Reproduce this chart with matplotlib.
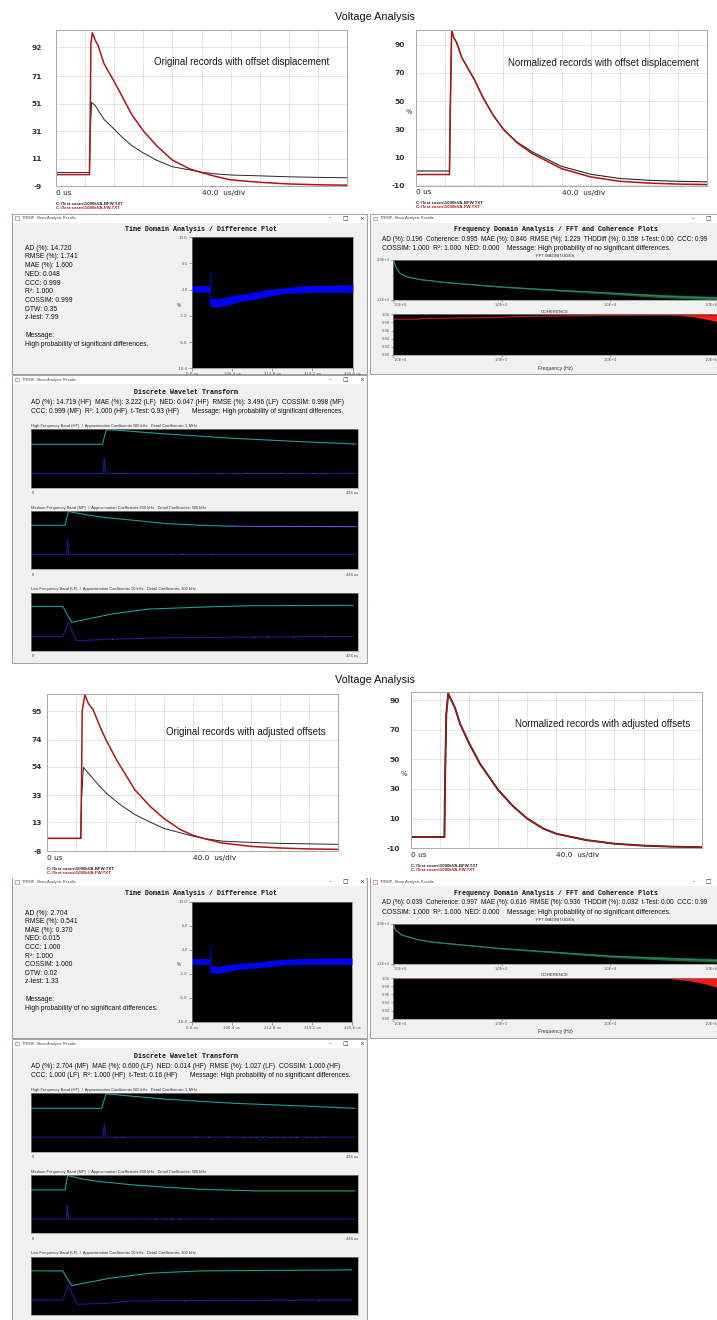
import matplotlib.pyplot as plt
from matplotlib.patches import Rectangle
import numpy as np

W, H = 717, 1320
SANS = 'Liberation Sans'
MONO = 'Liberation Mono'
VERD = 'DejaVu Sans'
RED = '#b01414'
INK = '#262626'
BLUE = '#0000ff'
TEAL = '#229c9c'
NAVY = '#1c1c96'
SPECK = '#1a8a3a'

# ---- voltage records (time in us, 40 us/div) ----
# offset displacement, original
off_t_black = [0, 46, 47, 49, 54, 60, 66, 80, 91, 104, 120, 138, 160, 184, 200, 220, 240, 280, 320, 360, 400]
off_v_black = [1.0, 1.0, 30, 52, 49.6, 44.4, 39.6, 32.5, 26.6, 20.6, 15.2, 10, 5.2, 2.9, 1.2, 0.0, -0.8, -1.4, -2.1, -2.5, -2.8]
off_t_red = [0, 46, 47, 48, 50, 54, 58, 66, 80, 91, 104, 120, 138, 160, 184, 200, 220, 240, 280, 320, 360, 400]
off_v_red = [-0.5, -0.5, 40, 95, 102.5, 97, 93, 80, 67, 56.2, 43.2, 31.3, 20.6, 10, 3.6, 1.0, -1.9, -4.3, -6.1, -7.3, -7.9, -8.2]
# offset displacement, normalized
offn_t = [0, 46, 47, 49, 52, 56, 63, 80, 92, 106, 120, 139, 160, 200, 240, 280, 320, 360, 400]
offn_v_black = [0.3, 0.3, 40, 100, 95, 91.4, 80.8, 65.5, 52.6, 40, 30, 20.8, 13.8, 3.6, -2.0, -5.0, -6.3, -7.0, -7.4]
offn_v_red = [-2.2, -2.2, 40, 100, 95, 91.4, 80.8, 65.5, 52.6, 40, 30, 20.3, 12.6, 2.0, -3.9, -7.0, -8.3, -9.0, -9.3]
# adjusted offsets, original
adj_t_black = [0, 46, 47, 49.6, 56.4, 68, 80.8, 100, 120.4, 141.2, 160.4, 199.6, 214.4, 240, 280, 320, 400]
adj_v_black = [1.3, 1.3, 30, 53.5, 49.3, 42, 34.7, 26.2, 18.8, 13.3, 8.6, 3.0, 1.3, -0.7, -1.7, -2.4, -3.1]
adj_t_red = [0, 46, 47, 48, 51.6, 56.4, 63.2, 72.4, 80.8, 95.2, 120.4, 141.2, 160.4, 182.4, 199.6, 214.4, 240, 280, 320, 360, 400]
adj_v_red = [1.3, 1.3, 40, 95, 107, 100.6, 95.7, 83.5, 73.7, 59, 37, 24.9, 15.9, 7.9, 3.7, 1.3, -2.1, -4.6, -5.8, -6.5, -6.8]
# adjusted offsets, normalized
adjn_t = [0, 46, 47, 48.5, 51.2, 56, 60.4, 67.6, 80.4, 94.8, 120, 140.8, 160, 182, 200, 240.4, 280, 320, 360, 400]
adjn_v = [-2.4, -2.4, 40, 80, 94.4, 89.3, 84.9, 73.8, 60.4, 47.1, 29.3, 18.2, 10, 3.3, -0.2, -4.4, -6.9, -8.2, -8.9, -9.3]

files = [r'C:\Test cases\1000kVA-BFW.TXT', r'C:\Test cases\1000kVA-FW.TXT']

# ---- difference plots (us, %) ----
diff_t = [0, 46, 47.5, 49, 55, 70, 90, 110, 130, 163, 200, 242, 300, 425.6]
diff1_lo = [1.7, 1.7, 0.2, -0.4, -0.6, -0.6, -0.4, -0.1, 0.3, 0.55, 1.0, 1.45, 1.6, 1.6]
diff1_hi = [2.6, 2.6, 1.5, 0.8, 0.6, 0.6, 0.8, 1.1, 1.3, 1.55, 2.0, 2.2, 2.6, 2.7]
diff1_spike = (47.5, 1.7, 4.6)
diff2_lo = [-0.4, -0.4, -1.0, -1.5, -1.9, -1.9, -1.7, -1.4, -1.2, -1.05, -0.8, -0.5, -0.4, -0.4]
diff2_hi = [0.5, 0.5, 0.0, -0.5, -0.8, -0.8, -0.6, -0.4, -0.3, -0.2, 0.1, 0.33, 0.5, 0.6]
diff2_spike = (47.5, -1.9, 2.7)

td1_stats = ['AD (%): 14.720', 'RMSE (%): 1.741', 'MAE (%): 1.600', 'NED: 0.048', 'CCC: 0.999',
             'R²: 1.000', 'COSSIM: 0.999', 'DTW: 0.35', 'z-test: 7.99']
td1_msg = 'High probability of significant differences.'
td2_stats = ['AD (%): 2.704', 'RMSE (%): 0.541', 'MAE (%): 0.370', 'NED: 0.015', 'CCC: 1.000',
             'R²: 1.000', 'COSSIM: 1.000', 'DTW: 0.02', 'z-test: 1.33']
td2_msg = 'High probability of no significant differences.'

# ---- spectra ----
fft1_f = [1, 1.15, 1.33, 1.77, 3.1, 9.7, 100, 680, 1e4, 9.5e4, 9.3e5, 1e6]
fft1_m = [200, 180.9, 169.5, 161.9, 155.8, 148.9, 139, 132.9, 125.3, 118.5, 113.8, 113.5]
fft2_f = [1, 1.1, 1.43, 2.9, 5.9, 100, 1e4, 1.2e5, 9.5e5, 1e6]
fft2_m = [200, 185, 174.4, 163.4, 157.6, 143.7, 126.8, 121, 117.3, 117.2]
ripple_f = [1, 10, 100, 1e3, 1e4, 1e5, 1e6]
ripple_a = [0, 0.3, 0.8, 1.5, 2.5, 3.5, 4.0]
coh1_f = [1, 3, 3.2, 100, 200, 1e4, 1e6]
coh1_v = [0.988, 0.988, 0.9895, 0.9926, 0.9945, 0.9975, 0.998]
coh1_noise_f = [1.5e5, 3.5e5, 6e5, 9.3e5, 1e6]
coh1_noise_lo = [0.998, 0.994, 0.988, 0.982, 0.981]
coh2_f = [1, 1e6]
coh2_v = [0.999, 0.999]
coh2_noise_f = [1.2e5, 3e5, 6e5, 1e6]
coh2_noise_lo = [0.999, 0.993, 0.985, 0.976]

fd1_line1 = 'AD (%): 0.196  Coherence: 0.995  MAE (%): 0.846  RMSE (%): 1.229  THDDiff (%): 0.158  t-Test: 0.00  CCC: 0.99'
fd1_line2 = 'COSSIM: 1.000  R²: 1.000  NED: 0.000'
fd1_msg = 'Message: High probability of no significant differences.'
fd2_line1 = 'AD (%): 0.039  Coherence: 0.997  MAE (%): 0.616  RMSE (%): 0.936  THDDiff (%): 0.032  t-Test: 0.00  CCC: 0.99'
fd2_line2 = 'COSSIM: 1.000  R²: 1.000  NED: 0.000'
fd2_msg = 'Message: High probability of no significant differences.'

# ---- wavelet bands (us, relative level 0..1) ----
band_titles = ['High Frequency Band (HF)  /  Approximation Coefficients 500 kHz   Detail Coefficients: 1 MHz',
               'Medium Frequency Band (MF)  /  Approximation Coefficients 250 kHz   Detail Coefficients: 500 kHz',
               'Low Frequency Band (LF)  /  Approximation Coefficients 50 kHz   Detail Coefficients: 100 kHz']

dwt1 = [
    dict(at=[0, 92.9, 98, 110.8, 176.4, 263.3, 350.2, 423], av=[0.743, 0.743, 0.99, 0.985, 0.92, 0.846, 0.789, 0.749],
         bt=[], bv=[],
         dt=[0, 93.6, 95.4, 97.2, 423], dv=[0.246, 0.246, 0.50, 0.246, 0.246],
         st=[110, 124, 213, 247, 268, 281, 290, 298, 307, 315, 324, 341, 349, 366, 383]),
    dict(at=[0, 44.3, 48.6, 68.2, 89.5, 133.3, 176.4, 219.8, 263.3], av=[0.754, 0.754, 0.99, 0.943, 0.897, 0.84, 0.783, 0.755, 0.737],
         bt=[263.3, 423], bv=[0.737, 0.731],
         dt=[0, 46.4, 47.7, 49.0, 423], dv=[0.257, 0.257, 0.50, 0.257, 0.257],
         st=[183, 196, 234]),
    dict(at=[0, 41.3, 52.8, 106.5, 153.4, 221.5, 285.4, 418.8], av=[0.763, 0.763, 0.49, 0.636, 0.717, 0.75, 0.775, 0.78],
         bt=[], bv=[],
         dt=[0, 41.3, 48.6, 58.7, 63, 100, 170, 300, 418.8], dv=[0.249, 0.249, 0.49, 0.185, 0.176, 0.2, 0.225, 0.24, 0.249],
         st=[106, 141, 290, 307, 341, 383]),
]
dwt2 = [
    dict(at=[0, 92, 97.6, 110.8, 176.4, 263.3, 350.2, 421.7], av=[0.744, 0.744, 0.99, 0.975, 0.898, 0.83, 0.784, 0.744],
         bt=[], bv=[],
         dt=[0, 93.6, 95.4, 97.2, 421.7], dv=[0.25, 0.25, 0.49, 0.25, 0.25],
         st=[111, 119, 213, 230, 256, 277, 285, 294, 302, 311, 320, 328, 337, 345, 358, 371, 383]),
    dict(at=[0, 44.3, 47.7, 68, 89.5, 133, 176.4, 219.8, 293, 421.7], av=[0.743, 0.743, 0.99, 0.926, 0.886, 0.829, 0.789, 0.754, 0.726, 0.726],
         bt=[], bv=[],
         dt=[0, 46, 47.3, 48.6, 421.7], dv=[0.246, 0.246, 0.486, 0.246, 0.246],
         st=[162, 175, 183, 192, 234]),
    dict(at=[0, 41.3, 52.8, 102.7, 155, 219.8, 417.5], av=[0.754, 0.754, 0.503, 0.629, 0.714, 0.754, 0.771],
         bt=[], bv=[],
         dt=[0, 41.3, 48.6, 60.5, 100, 130, 250, 417.5], dv=[0.257, 0.257, 0.503, 0.183, 0.2, 0.24, 0.25, 0.257],
         st=[200, 298, 307, 341, 375]),
]
dwt1_line1 = 'AD (%): 14.719 (HF)  MAE (%): 3.222 (LF)  NED: 0.047 (HF)  RMSE (%): 3.496 (LF)  COSSIM: 0.998 (MF)'
dwt1_line2 = 'CCC: 0.999 (MF)  R²: 1.000 (HF)  t-Test: 0.93 (HF)'
dwt1_msg = 'Message: High probability of significant differences.'
dwt2_line1 = 'AD (%): 2.704 (MF)  MAE (%): 0.600 (LF)  NED: 0.014 (HF)  RMSE (%): 1.027 (LF)  COSSIM: 1.000 (HF)'
dwt2_line2 = 'CCC: 1.000 (LF)  R²: 1.000 (HF)  t-Test: 0.16 (HF)'
dwt2_msg = 'Message: High probability of no significant differences.'

fig = plt.figure(figsize=(W / 100, H / 100), dpi=100)
# bottom layer for window frames, top layer for free text
bg = fig.add_axes([0, 0, 1, 1], zorder=-5)
fg = fig.add_axes([0, 0, 1, 1], zorder=10)
for layer in (bg, fg):
    layer.set_xlim(0, W)
    layer.set_ylim(H, 0)
    layer.axis('off')


def pax(x0, y0, x1, y1):
    return fig.add_axes([x0 / W, 1 - y1 / H, (x1 - x0) / W, (y1 - y0) / H])


def txt(x, y, s, size, family=SANS, **kw):
    kw.setdefault('va', 'center')
    kw.setdefault('color', '#111111')
    fg.text(x, y, s, fontsize=size, family=family, **kw)


def scope(box, ylim, yticks, pad, curves, caption, cap_x, cap_y, pct_x=None):
    x0, y0, x1, y1 = box
    ax = pax(*box)
    ax.set_xlim(0, 400)
    ax.set_ylim(*ylim)
    ax.set_xticks(np.arange(0, 401, 40))
    ax.set_xticklabels([])
    ax.set_yticks(yticks)
    ax.set_yticklabels([str(v) for v in yticks], fontsize=5.4, fontweight='bold', family=VERD, color='#333333')
    ax.tick_params(length=0, pad=pad)
    ax.grid(True, ls=(0, (1, 1)), color='#c4c4c4', lw=0.6)
    for s in ax.spines.values():
        s.set_color('#a8a8a8')
        s.set_linewidth(0.7)
    for t, v, c, lw in curves:
        ax.plot(t, v, color=c, lw=lw)
    txt(cap_x, cap_y, caption, 7.0, color='#1a1a1a')
    txt(x0, y1 + 7, '0 us', 5.3, family=VERD, color='#222222')
    txt((x0 + x1) / 2, y1 + 7, '40.0  us/div', 5.3, family=VERD, color='#222222')
    txt(x0, y1 + 17.5, files[0], 3.2, fontweight='bold', color='#222222')
    txt(x0, y1 + 21.5, files[1], 3.2, fontweight='bold', color='#c01010')
    if pct_x is not None:
        txt(pct_x, (y0 + y1) / 2 + 4, '%', 5.0, family=VERD, color='#333333')


def window(x0, y0, x1, y1):
    bg.add_patch(Rectangle((x0, y0), x1 - x0, y1 - y0, fc='#f0f0f0', ec='#a0a0a0', lw=0.7))
    bg.add_patch(Rectangle((x0 + 0.6, y0 + 0.6), x1 - x0 - 1.2, 8, fc='white', ec='none'))
    bg.add_patch(Rectangle((x0 + 3, y0 + 2.4), 4, 3.4, fc='white', ec='#c85050', lw=0.4))
    txt(x0 + 10, y0 + 4.3, 'TRIMP- Show Analysis Results', 2.8, color='#444444')
    for dx, s in [(37, '–'), (22, '□'), (5.5, '×')]:
        if x1 - dx < W - 4:
            txt(x1 - dx, y0 + 4.3, s, 4.2, family=VERD, ha='center', color='#333333')


def diff_panel(x0, y0, x1, y1, title_y, stats, msg, stat_y0, stat_dy, msg_y):
    window(x0, y0, x1, y1)
    txt(201, title_y, 'Time Domain Analysis / Difference Plot', 4.8, family=MONO, fontweight='bold', ha='center')
    for i, s in enumerate(stats):
        txt(25, stat_y0 + i * stat_dy, s, 4.9)
    txt(25, msg_y, 'Message:', 4.9)
    txt(25, msg_y + 8.6, msg, 4.9)


def diff_plot(box, lo, hi, spike):
    ax = pax(*box)
    ax.set_facecolor('black')
    ax.fill_between(diff_t, lo, hi, color=BLUE, lw=0.3)
    ax.vlines(spike[0], spike[1], spike[2], color=BLUE, lw=0.6)
    ax.set_xlim(0, 425.6)
    ax.set_ylim(-10, 10)
    yt = [10, 6, 2, -2, -6, -10]
    ax.set_yticks(yt)
    ax.set_yticklabels(['%.1f' % v for v in yt])
    xt = [0, 106.4, 212.8, 319.2, 425.6]
    ax.set_xticks(xt)
    ax.set_xticklabels(['%.1f us' % v for v in xt])
    ax.tick_params(length=2, width=0.4, labelsize=2.8, pad=1, colors='#555555')
    for s in ax.spines.values():
        s.set_color('#808080')
        s.set_linewidth(0.5)
    txt(box[0] - 15, (box[1] + box[3]) / 2 + 3, '%', 3.4, color='#444444')


def freq_panel(ty, line1, line2, msg, fft_f, fft_m, coh_f, coh_v, nf, nlo):
    window(370, ty - 15.5, 730, ty + 144.5)
    txt(556, ty, 'Frequency Domain Analysis / FFT and Coherence Plots', 4.8, family=MONO, fontweight='bold', ha='center')
    txt(382, ty + 9.7, line1, 4.7)
    txt(382, ty + 18.8, line2, 4.85)
    txt(507, ty + 18.8, msg, 4.85)
    txt(555, ty + 26.5, 'FFT MAGNITUDES', 3.2, ha='center', color='#333333')
    txt(555, ty + 82.2, 'COHERENCE', 3.2, ha='center', color='#333333')
    txt(555, ty + 138.5, 'Frequency (Hz)', 3.6, ha='center', color='#333333')

    xt = [1, 1e2, 1e4, 1e6]
    xl = ['1.0E+0', '1.0E+2', '1.0E+4', '1.0E+6']
    a1 = pax(393.3, ty + 30.3, 718.3, ty + 70.3)
    a1.set_facecolor('black')
    a1.set_xscale('log')
    a1.set_xlim(1, 1e6)
    a1.set_ylim(110, 200)
    amp = np.interp(np.log10(fft_f), np.log10(ripple_f), ripple_a)
    a1.plot(fft_f, fft_m, color='#2a3ec8', lw=0.9)
    a1.fill_between(fft_f, np.array(fft_m) - amp, np.array(fft_m) + amp, color='#1d8a2a', lw=0, alpha=0.8)
    a1.plot(fft_f, fft_m, color='#22a032', lw=0.6)
    a1.set_yticks([110, 200])
    a1.set_yticklabels(['1.1E+2', '2.0E+2'])
    a1.set_xticks(xt)
    a1.set_xticklabels(xl)
    a1.minorticks_off()

    a2 = pax(393.3, ty + 84.7, 718.3, ty + 125.4)
    a2.set_facecolor('black')
    a2.set_xscale('log')
    a2.set_xlim(1, 1e6)
    a2.set_ylim(0.90, 1.00)
    a2.fill_between(nf, nlo, 1.0, color='#ff1a1a', lw=0)
    a2.plot(coh_f, coh_v, color='#c01010', lw=0.9)
    ct = [0.90, 0.92, 0.94, 0.96, 0.98, 1.00]
    a2.set_yticks(ct)
    a2.set_yticklabels(['%.2f' % v for v in ct])
    a2.set_xticks(xt)
    a2.set_xticklabels(xl)
    a2.minorticks_off()
    for a in (a1, a2):
        a.tick_params(length=1.5, width=0.4, labelsize=2.6, pad=1, colors='#555555')
        a.get_xticklabels()[0].set_ha('left')
        a.get_xticklabels()[-1].set_ha('right')
        for s in a.spines.values():
            s.set_color('#909090')
            s.set_linewidth(0.5)


def dwt_panel(ty, line1, line2, msg, msg_x, bands, bottom):
    window(12, ty - 17.5, 367, bottom)
    txt(186, ty, 'Discrete Wavelet Transform', 4.8, family=MONO, fontweight='bold', ha='center')
    txt(31, ty + 10, line1, 4.8)
    txt(31, ty + 19, line2, 4.8)
    txt(msg_x, ty + 19, msg, 4.8)
    for k, (name, b) in enumerate(zip(band_titles, bands)):
        top = ty + 36.6 + k * 81.6
        txt(31, top - 3.2, name, 2.9, color='#333333')
        ax = pax(31, top, 358.3, top + 58.5)
        ax.set_facecolor('black')
        ax.set_xlim(0, 426)
        ax.set_ylim(0, 1)
        ax.set_xticks([])
        ax.set_yticks([])
        for s in ax.spines.values():
            s.set_color('#909090')
            s.set_linewidth(0.5)
        ax.plot(b['at'], b['av'], color=TEAL, lw=0.8)
        if b['bt']:
            ax.plot(b['bt'], b['bv'], color='#5a5ae6', lw=0.8)
        ax.plot(b['dt'], b['dv'], color=NAVY, lw=0.8)
        ax.plot(b['st'], np.interp(b['st'], b['dt'], b['dv']), 's', ms=0.7, color=SPECK, mew=0)
        if top + 63.7 < H - 2:
            txt(32, top + 63.7, '0', 2.9, color='#444444')
            txt(358, top + 63.7, '426 us', 2.9, color='#444444', ha='right')


# ---------------- upper half: offset displacement ----------------
txt(375, 16.7, 'Voltage Analysis', 7.8, ha='center', color='#111111')
scope((56, 30, 347, 186.3), (-9, 104.5), [92, 71, 51, 31, 11, -9], 10,
      [(off_t_black, off_v_black, INK, 0.7), (off_t_red, off_v_red, RED, 1.1)],
      'Original records with offset displacement', 154, 62)
scope((416, 30, 707, 185.5), (-10, 100.5), [90, 70, 50, 30, 10, -10], 8,
      [(offn_t, offn_v_black, INK, 0.8), (offn_t, offn_v_red, RED, 1.1)],
      'Normalized records with offset displacement', 508, 63, pct_x=405.5)

diff_panel(12, 214, 367, 374, 229.6, td1_stats, td1_msg, 248.3, 8.7, 335.7)
freq_panel(229.6, fd1_line1, fd1_line2, fd1_msg, fft1_f, fft1_m, coh1_f, coh1_v, coh1_noise_f, coh1_noise_lo)
dwt_panel(392.7, dwt1_line1, dwt1_line2, dwt1_msg, 192.3, dwt1, 663)
diff_plot((191.7, 237.3, 352.7, 368.3), diff1_lo, diff1_hi, diff1_spike)

# ---------------- lower half: adjusted offsets ----------------
txt(375, 680, 'Voltage Analysis', 7.8, ha='center', color='#111111')
scope((47.3, 694.3, 338.3, 851), (-8, 107.3), [95, 74, 54, 33, 13, -8], 4,
      [(adj_t_black, adj_v_black, INK, 0.7), (adj_t_red, adj_v_red, RED, 1.1)],
      'Original records with adjusted offsets', 166, 732.3)
scope((411, 691.7, 701.7, 848.3), (-10, 95.6), [90, 70, 50, 30, 10, -10], 8,
      [(adjn_t, adjn_v, INK, 1.4), (adjn_t, adjn_v, RED, 0.9)],
      'Normalized records with adjusted offsets', 515, 724.3, pct_x=400.5)

diff_panel(12, 877.7, 367, 1038, 893.3, td2_stats, td2_msg, 913.3, 8.55, 999.7)
freq_panel(893.3, fd2_line1, fd2_line2, fd2_msg, fft2_f, fft2_m, coh2_f, coh2_v, coh2_noise_f, coh2_noise_lo)
dwt_panel(1056.7, dwt2_line1, dwt2_line2, dwt2_msg, 190, dwt2, 1330)
diff_plot((191.7, 901.7, 352.3, 1021.7), diff2_lo, diff2_hi, diff2_spike)

fig.savefig('out.png', dpi=100)
